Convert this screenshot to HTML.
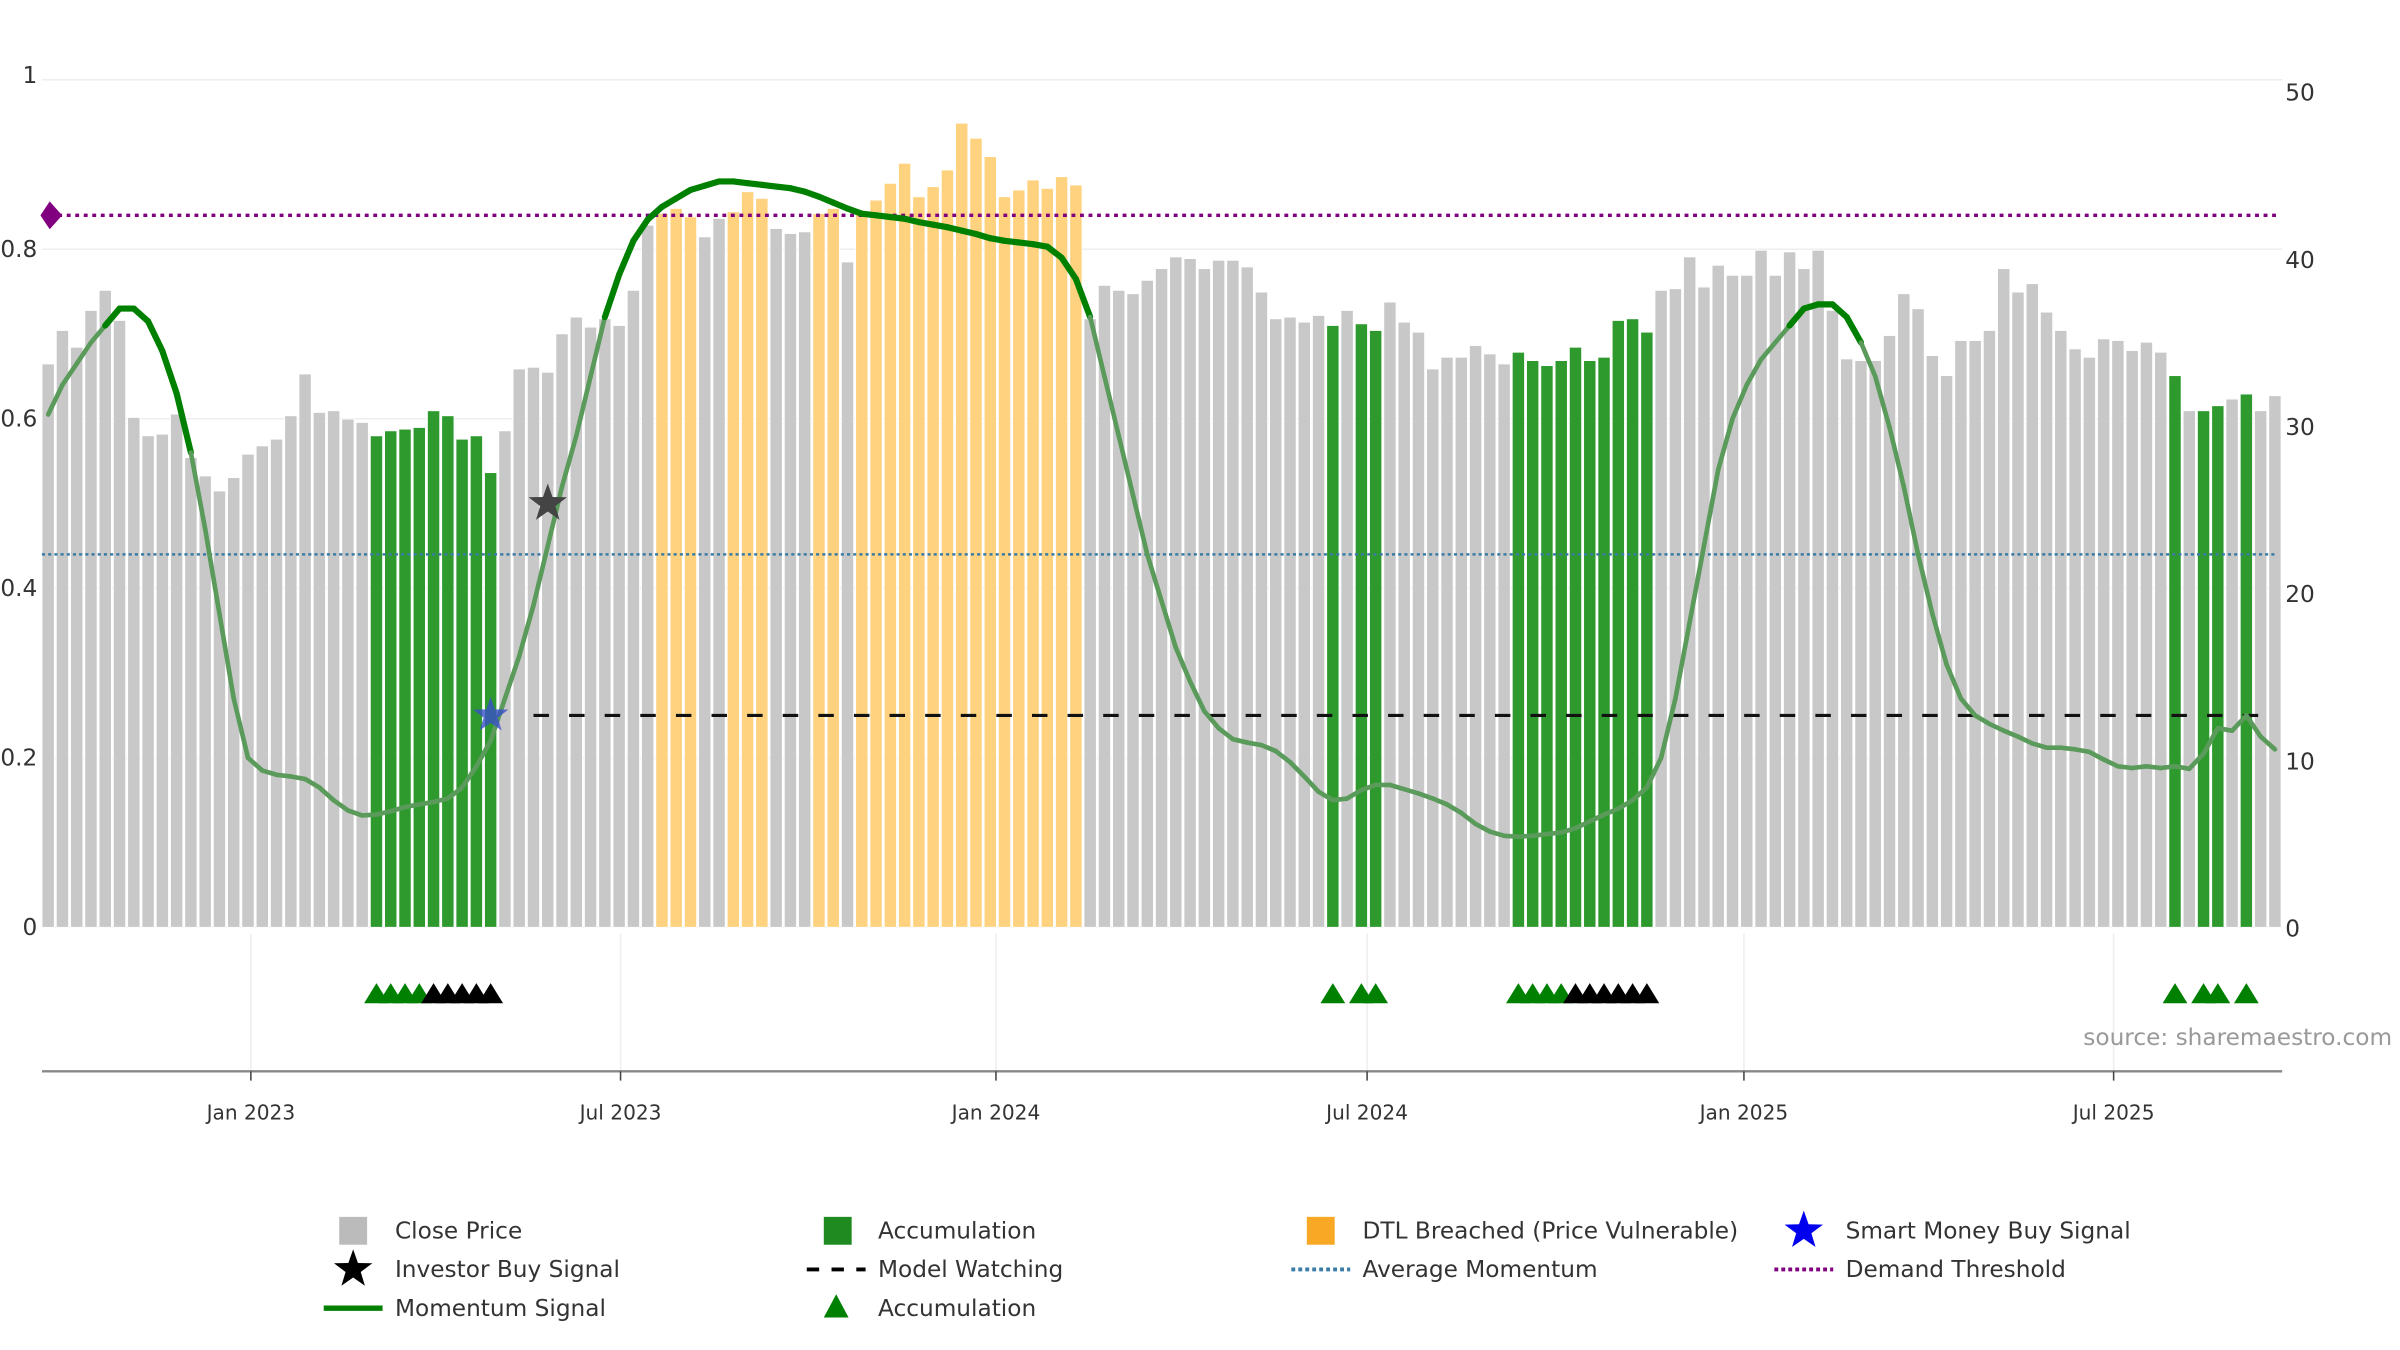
<!DOCTYPE html>
<html><head><meta charset="utf-8">
<style>
html,body{margin:0;padding:0;background:#fff;}
svg{display:block;font-family:"DejaVu Sans","Liberation Sans",sans-serif;}
</style></head>
<body>
<svg id="chart" width="2400" height="1350" viewBox="0 0 1550 872" xmlns="http://www.w3.org/2000/svg">
<g id="grid"></g>
<g id="bars"></g>
<g id="refs"></g>
<g id="mom"></g>
<g id="marks"></g>
<g id="axes"></g>
<text x="1545" y="675" font-size="15" fill="#999" text-anchor="end">source: sharemaestro.com</text>
<g id="legend"></g>
</svg>
<script>
// ---- data ----
const closePrices = [33.7,35.7,34.7,36.9,38.1,36.3,30.5,29.4,29.5,30.7,28.1,27.0,26.1,26.9,28.3,28.8,29.2,30.6,33.1,30.8,30.9,30.4,30.2,29.4,29.7,29.8,29.9,30.9,30.6,29.2,29.4,27.2,29.7,33.4,33.5,33.2,35.5,36.5,35.9,36.4,36.0,38.1,42.0,42.7,43.0,42.5,41.3,42.4,42.8,44.0,43.6,41.8,41.5,41.6,42.7,43.0,39.8,42.8,43.5,44.5,45.7,43.7,44.3,45.3,48.1,47.2,46.1,43.7,44.1,44.7,44.2,44.9,44.4,36.4,38.4,38.1,37.9,38.7,39.4,40.1,40.0,39.4,39.9,39.9,39.5,38.0,36.4,36.5,36.2,36.6,36.0,36.9,36.1,35.7,37.4,36.2,35.6,33.4,34.1,34.1,34.8,34.3,33.7,34.4,33.9,33.6,33.9,34.7,33.9,34.1,36.3,36.4,35.6,38.1,38.2,40.1,38.3,39.6,39.0,39.0,40.5,39.0,40.4,39.4,40.5,36.9,34.0,33.9,33.9,35.4,37.9,37.0,34.2,33.0,35.1,35.1,35.7,39.4,38.0,38.5,36.8,35.7,34.6,34.1,35.2,35.1,34.5,35.0,34.4,33.0,30.9,30.9,31.2,31.6,31.9,30.9,31.8];
// 0 = close, 1 = accumulation, 2 = DTL breached
const barCategory = (function(){const a=new Array(157).fill(0);
  [23,24,25,26,27,28,29,30,31,90,92,93,103,104,105,106,107,108,109,110,111,112,149,151,152,154].forEach(i=>a[i]=1);
  [43,44,45,48,49,50,54,55,57,58,59,60,61,62,63,64,65,66,67,68,69,70,71,72].forEach(i=>a[i]=2);return a;})();
const momentum = [0.605,0.64,0.665,0.69,0.71,0.73,0.73,0.715,0.68,0.63,0.56,0.47,0.37,0.27,0.2,0.185,0.18,0.178,0.175,0.165,0.15,0.138,0.132,0.133,0.137,0.142,0.145,0.148,0.152,0.165,0.19,0.22,0.27,0.32,0.38,0.45,0.52,0.58,0.65,0.72,0.77,0.81,0.835,0.85,0.86,0.87,0.875,0.88,0.88,0.878,0.876,0.874,0.872,0.868,0.862,0.855,0.848,0.842,0.84,0.838,0.836,0.832,0.829,0.826,0.822,0.818,0.813,0.81,0.808,0.806,0.803,0.79,0.765,0.72,0.65,0.58,0.51,0.44,0.385,0.33,0.29,0.255,0.235,0.222,0.218,0.215,0.208,0.195,0.178,0.16,0.15,0.152,0.162,0.168,0.168,0.163,0.158,0.152,0.145,0.135,0.122,0.113,0.108,0.107,0.108,0.11,0.112,0.117,0.125,0.133,0.14,0.15,0.165,0.2,0.27,0.36,0.45,0.54,0.6,0.64,0.67,0.69,0.71,0.73,0.735,0.735,0.72,0.69,0.65,0.59,0.52,0.44,0.37,0.31,0.27,0.25,0.24,0.232,0.225,0.217,0.212,0.212,0.21,0.207,0.198,0.19,0.188,0.19,0.188,0.19,0.187,0.205,0.235,0.232,0.25,0.225,0.21];
const demandThreshold = 0.84;
const avgMomentum = 0.44;
const modelWatching = 0.25;
const modelWatchStart = 34;
const smartMoney = [{i:31, v:0.25}];
const investorBuy = [{i:35, v:0.5}];
const triGreen = [23,24,25,26,90,92,93,103,104,105,106,149,151,152,154];
const triBlack = [27,28,29,30,31,107,108,109,110,111,112];
const dateLabels = ["Jan 2023","Jul 2023","Jan 2024","Jul 2024","Jan 2025","Jul 2025"];
const dateIdx = [14.2,40.1,66.4,92.4,118.8,144.7];
const leftTicks = [0,0.2,0.4,0.6,0.8,1];
const rightTicks = [0,10,20,30,40,50];

// ---- axes ----
const NS="http://www.w3.org/2000/svg";
const X0=31, DX=9.22, Y0=599;
const xOf=i=>X0+i*DX;
const yL=v=>Y0-v*547.5;
const yR=v=>Y0-v*10.8;
function mk(tag,attrs,parent){const e=document.createElementNS(NS,tag);for(const k in attrs)e.setAttribute(k,attrs[k]);parent.appendChild(e);return e;}
const $=id=>document.getElementById(id);

// grid
const grid=$('grid');
leftTicks.forEach(t=>{const l=mk('line',{x1:27,x2:1474,y1:yL(t),y2:yL(t),stroke:'#eee','stroke-width':1},grid);

});
dateIdx.forEach(d=>{const l=mk('line',{x1:xOf(d),x2:xOf(d),y1:603,y2:692,stroke:'#eee','stroke-width':1},grid);

});

// bars
const colors=['#c8c8c8','#2e9a2e','#ffd27f'];
const bars=$('bars');
closePrices.forEach((v,i)=>{const r=mk('rect',{x:xOf(i)-4,y:yR(v),width:8,height:Y0-yR(v),fill:colors[barCategory[i]],stroke:'#fff','stroke-width':0.6},bars);

});

// reference lines
const refs=$('refs');
let l=mk('line',{x1:32,x2:1470,y1:yL(demandThreshold),y2:yL(demandThreshold),stroke:'#800080','stroke-width':2.2,'stroke-dasharray':'2.5 3'},refs);


let d=mk('path',{d:`M${26} ${yL(demandThreshold)} L32 ${yL(demandThreshold)-9} L40 ${yL(demandThreshold)} L32 ${yL(demandThreshold)+9}Z`,fill:'#800080'},refs);


l=mk('line',{x1:27,x2:1470,y1:yL(avgMomentum),y2:yL(avgMomentum),stroke:'#3a7ca5','stroke-width':1.6,'stroke-dasharray':'2 2'},refs);


l=mk('line',{x1:xOf(modelWatchStart),x2:1470,y1:yL(modelWatching),y2:yL(modelWatching),stroke:'#111','stroke-width':2,'stroke-dasharray':'10 13'},refs);



// momentum line (segments)
const mom=$('mom');
for(let i=0;i<momentum.length-1;i++){
  const strong = (momentum[i]>=0.7 && momentum[i+1]>=0.69) || (i>=5&&i<=9);
  const s=mk('line',{x1:xOf(i),y1:yL(momentum[i]),x2:xOf(i+1),y2:yL(momentum[i+1]),stroke:strong?'#008000':'#5a9a5a','stroke-width':strong?4:3,'stroke-linecap':'round'},mom);
  
  
}

// markers
const marks=$('marks');
function star(cx,cy,r,fill){const p=[];for(let k=0;k<10;k++){const a=-Math.PI/2+k*Math.PI/5;const rr=k%2?r*0.4:r;p.push((cx+rr*Math.cos(a)).toFixed(1)+','+(cy+rr*Math.sin(a)).toFixed(1));}return mk('polygon',{points:p.join(' '),fill:fill},marks);}
smartMoney.forEach(s=>{const e=star(xOf(s.i),yL(s.v),12,'#3a50c8');e.setAttribute('opacity','0.8');

});
investorBuy.forEach(s=>{const e=star(xOf(s.i),yL(s.v),13,'#444');

});
function tri(i,fill){return mk('path',{d:`M${xOf(i)-8} 648 L${xOf(i)} 635 L${xOf(i)+8} 648Z`,fill:fill},marks);}
triGreen.forEach(i=>{const t=tri(i,'#008000');

});
triBlack.forEach(i=>{const t=tri(i,'#000');

});

// axes labels
const axes=$('axes');
leftTicks.forEach(t=>{const tx=mk('text',{x:24,y:(t===1?yL(t)-3:yL(t))+5,'font-size':15,fill:'#333','text-anchor':'end'},axes);tx.textContent=t===0?'0':(t===1?'1':t.toFixed(1));

});
rightTicks.forEach(t=>{const tx=mk('text',{x:1476,y:yR(t)+6,'font-size':15,fill:'#333'},axes);tx.textContent=t;

});
l=mk('line',{x1:27,x2:1474,y1:692,y2:692,stroke:'#888','stroke-width':1.5},axes);


dateIdx.forEach((di,k)=>{const t=mk('line',{x1:xOf(di),x2:xOf(di),y1:692,y2:698,stroke:'#444','stroke-width':1},axes);


const tx=mk('text',{x:xOf(di),y:723,'font-size':13,fill:'#333','text-anchor':'middle'},axes);tx.textContent=dateLabels[k];

});

// legend
const lg=$('legend');
function ltext(x,y,s){const t=mk('text',{x:x,y:y+5,'font-size':15,fill:'#333'},lg);t.textContent=s;

}
function litem(e,name){}
litem(mk('rect',{x:219,y:786,width:18,height:18,fill:'#bbb'},lg),'legend-close-price');ltext(255,795,'Close Price');
litem(mk('rect',{x:532,y:786,width:18,height:18,fill:'#1f8a1f'},lg),'legend-accumulation');ltext(567,795,'Accumulation');
litem(mk('rect',{x:844,y:786,width:18,height:18,fill:'#f9a825'},lg),'legend-dtl-breached');ltext(880,795,'DTL Breached (Price Vulnerable)');
(function(){const e=star(1165,795,13,'#0000ee');lg.appendChild(e);litem(e,'legend-smart-money');})();ltext(1192,795,'Smart Money Buy Signal');
(function(){const e=star(228,820,13,'#000');lg.appendChild(e);litem(e,'legend-investor-buy');})();ltext(255,820,'Investor Buy Signal');
litem(mk('line',{x1:521,x2:559,y1:820,y2:820,stroke:'#000','stroke-width':2.5,'stroke-dasharray':'8 8'},lg),'legend-model-watching');ltext(567,820,'Model Watching');
litem(mk('line',{x1:834,x2:872,y1:820,y2:820,stroke:'#3a7ca5','stroke-width':2.5,'stroke-dasharray':'2.5 2'},lg),'legend-average-momentum');ltext(880,820,'Average Momentum');
litem(mk('line',{x1:1146,x2:1184,y1:820,y2:820,stroke:'#800080','stroke-width':2.5,'stroke-dasharray':'2.5 2'},lg),'legend-demand-threshold');ltext(1192,820,'Demand Threshold');
litem(mk('line',{x1:209,x2:247,y1:845,y2:845,stroke:'#008000','stroke-width':3.5},lg),'legend-momentum-signal');ltext(255,845,'Momentum Signal');
litem(mk('path',{d:'M532 851 L540 836 L548 851Z',fill:'#008000'},lg),'legend-accumulation-triangle');ltext(567,845,'Accumulation');
</script>
</body></html>
